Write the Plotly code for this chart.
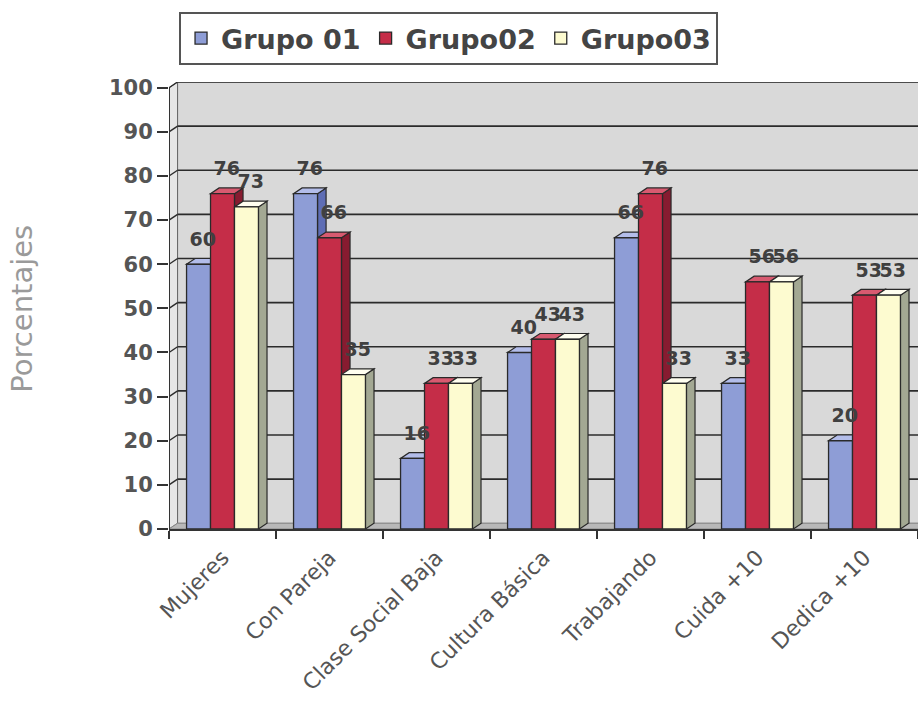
import plotly.graph_objects as go

categories = ["Mujeres", "Con Pareja", "Clase Social Baja", "Cultura Básica",
              "Trabajando", "Cuida +10", "Dedica +10"]
grupo01 = [60, 76, 16, 40, 66, 33, 20]
grupo02 = [76, 66, 33, 43, 76, 56, 53]
grupo03 = [73, 35, 33, 43, 33, 56, 53]
series_names = ["Grupo 01", "Grupo02", "Grupo03"]
series_values = [grupo01, grupo02, grupo03]
y_ticks = list(range(0, 101, 10))

front_col = ["#8e9dd6", "#c52d48", "#fdfbd0"]
top_col = ["#b3bdea", "#d85a70", "#fffef0"]
side_col = ["#5e6db5", "#871b30", "#a3a893"]

n = len(categories)
x_idx = list(range(n))
BW = 0.224     # bar width (category units)
DX = 0.08      # 3D depth, x (category units)
DY = 1.3       # 3D depth, y (value units)
YMAX = 100
EDGE = "#2a2a2a"

fig = go.Figure()
shapes = []
# back wall
shapes.append(dict(type="rect", xref="x", yref="y", x0=-0.5 + DX, x1=n - 0.5 + DX,
                   y0=DY, y1=YMAX + DY, fillcolor="#d9d9d9",
                   line=dict(color="#888", width=1), layer="between"))
# side wall
shapes.append(dict(type="path", xref="x", yref="y",
                   path=f"M -0.5,0 L {-0.5 + DX},{DY} L {-0.5 + DX},{YMAX + DY} L -0.5,{YMAX} Z",
                   fillcolor="#e6e6e6", line=dict(color="#666", width=1), layer="between"))
# floor
shapes.append(dict(type="path", xref="x", yref="y",
                   path=f"M -0.5,0 L {n - 0.5},0 L {n - 0.5 + DX},{DY} L {-0.5 + DX},{DY} Z",
                   fillcolor="#b8b8b8", line=dict(color="#888", width=1), layer="between"))
# gridlines
for v in y_ticks[1:]:
    shapes.append(dict(type="line", xref="x", yref="y", x0=-0.5 + DX, x1=n - 0.5 + DX,
                       y0=v + DY, y1=v + DY, line=dict(color="#2b2b2b", width=1.6),
                       layer="between"))
    shapes.append(dict(type="line", xref="x", yref="y", x0=-0.5, x1=-0.5 + DX,
                       y0=v, y1=v + DY, line=dict(color="#2b2b2b", width=1.4),
                       layer="between"))

# 3D faces of bars
for i, vals in enumerate(series_values):
    off = -1.5 * BW + i * BW
    for j, v in enumerate(vals):
        x0 = j + off
        x1 = x0 + BW
        shapes.append(dict(type="path", xref="x", yref="y",
                           path=f"M {x1},0 L {x1 + DX},{DY} L {x1 + DX},{v + DY} L {x1},{v} Z",
                           fillcolor=side_col[i], line=dict(color=EDGE, width=1.2),
                           layer="between"))
        shapes.append(dict(type="path", xref="x", yref="y",
                           path=f"M {x0},{v} L {x1},{v} L {x1 + DX},{v + DY} L {x0 + DX},{v + DY} Z",
                           fillcolor=top_col[i], line=dict(color=EDGE, width=1.2),
                           layer="between"))

# y axis line
shapes.append(dict(type="line", xref="x", yref="y", x0=-0.5, x1=-0.5, y0=0, y1=YMAX,
                   line=dict(color="#333", width=2), layer="above"))

for i, (name, vals) in enumerate(zip(series_names, series_values)):
    off = -1.5 * BW + i * BW
    fig.add_trace(go.Bar(
        x=x_idx, y=vals, name=name, width=BW, offset=off,
        marker=dict(color=front_col[i], line=dict(color=EDGE, width=1.3)),
    ))
for i, vals in enumerate(series_values):
    off = -1.5 * BW + i * BW
    fig.add_trace(go.Scatter(
        x=[j + off + BW / 2 + DX / 2 for j in x_idx],
        y=[v + DY + 1.8 for v in vals],
        mode="text", text=[str(v) for v in vals], textposition="top center",
        textfont=dict(family="DejaVu Sans", size=19, color="#404040", weight="bold"),
        showlegend=False, hoverinfo="skip", cliponaxis=False,
    ))

fig.add_annotation(text="Porcentajes", xref="paper", yref="paper",
                   x=(22 - 169) / 749, xanchor="center", y=0.493, yanchor="middle",
                   textangle=-90, showarrow=False,
                   font=dict(family="DejaVu Sans", size=29, color="#9a9a9a"))

fig.update_layout(
    width=918, height=703,
    margin=dict(l=169, r=0, t=82, b=174, autoexpand=False),
    paper_bgcolor="white", plot_bgcolor="white",
    barmode="overlay",
    shapes=shapes,
    showlegend=True,
    legend=dict(orientation="h", x=0.0134, xanchor="left", y=1.038, yanchor="bottom",
                font=dict(family="DejaVu Sans", size=27, color="#444", weight="bold"),
                bordercolor="#555", borderwidth=2, bgcolor="white",
                itemwidth=30),
    xaxis=dict(range=[-0.5, n - 0.5], tickvals=x_idx, ticktext=categories,
               tickangle=-45, ticks="", showgrid=False, zeroline=False, automargin=False,
               showline=True, linecolor="#333", linewidth=2, ticklabelstandoff=5,
               tickfont=dict(family="DejaVu Sans", size=22, color="#555"),
               minor=dict(tick0=-0.5, dtick=1, ticks="outside", ticklen=8,
                          tickcolor="#333", tickwidth=1.5)),
    yaxis=dict(range=[0, YMAX + DY], tickvals=y_ticks, ticks="outside", ticklen=11,
               tickcolor="#333", tickwidth=1.5, showgrid=False, zeroline=False,
               showline=False, automargin=False,
               tickfont=dict(family="DejaVu Sans", size=21, color="#555", weight="bold")),
)

fig.write_html("out.html")
